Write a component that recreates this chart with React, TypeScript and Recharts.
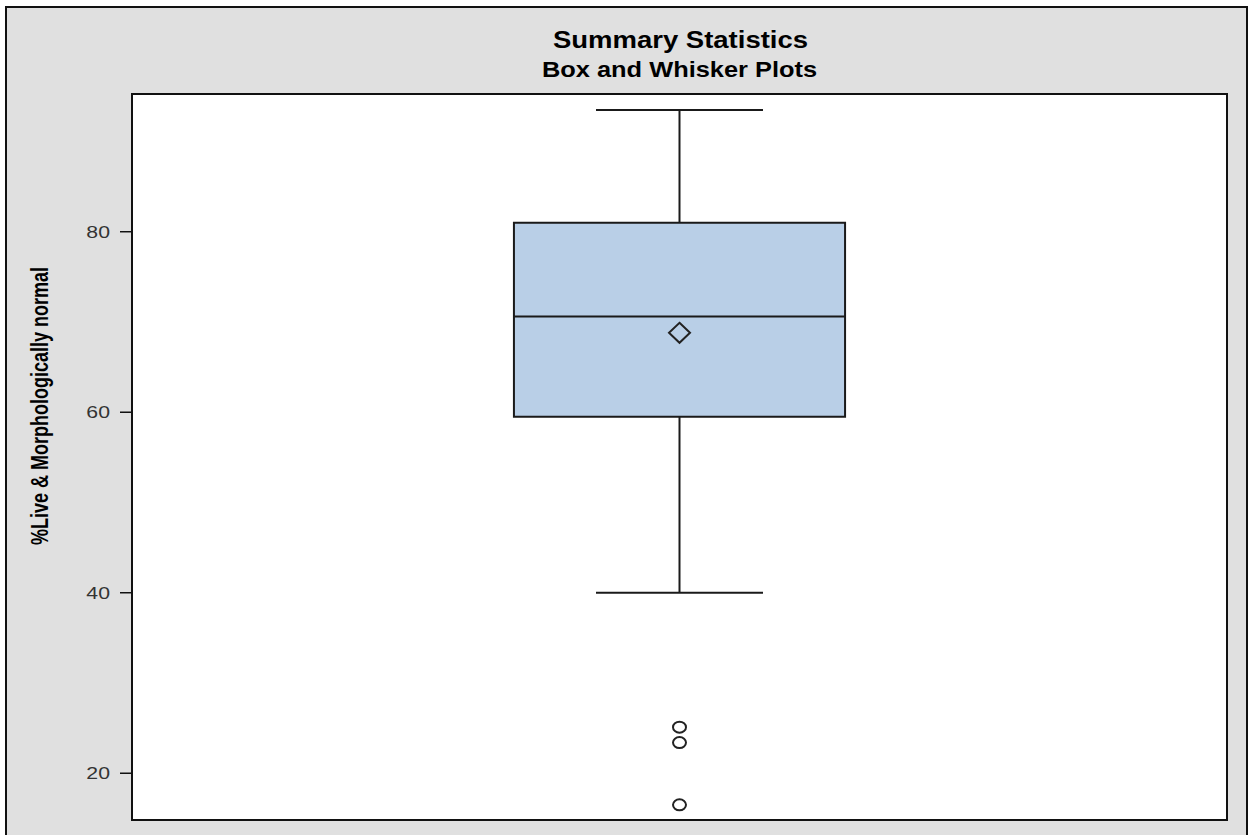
import {
  ComposedChart,
  XAxis,
  YAxis,
  Scatter,
  ReferenceArea,
  ReferenceLine,
} from "recharts";

// one group, summary values
const groups = [1];
const whiskerLow = [40.0];
const q1 = [59.5];
const median = [70.6];
const q3 = [81.0];
const whiskerHigh = [93.5];
const mean = [68.8];
const outliers = [25.1, 23.4, 16.5];
const yTicks = [20, 40, 60, 80];

const Y_MIN = 14.82;
const Y_MAX = 95.26;
const BOX_HALF = 0.3024;
const CAP_HALF = 0.1525;
const STRETCH = 1.25; // the source image is stretched horizontally

const meanData = groups.map((g, i) => ({ x: g, y: mean[i] }));
const outlierData = outliers.map((v) => ({ x: groups[0], y: v }));

const Diamond = (props: any) => {
  const { cx, cy } = props;
  return (
    <polygon
      points={`${cx},${cy - 10} ${cx + 10.5},${cy} ${cx},${cy + 10} ${cx - 10.5},${cy}`}
      fill="none"
      stroke="#222"
      strokeWidth={2}
    />
  );
};

const Ring = (props: any) => {
  const { cx, cy } = props;
  return <ellipse cx={cx} cy={cy} rx={6.5} ry={5.5} fill="none" stroke="#222" strokeWidth={2} />;
};

const YTick = (props: any) => {
  const { x, y, payload } = props;
  return (
    <g transform={`translate(${x},${y}) scale(${STRETCH},1)`}>
      <text x={0} y={0} dy="0.36em" textAnchor="end" fontSize={17} fill="#333" fontFamily="Liberation Sans, Arial, sans-serif">
        {payload.value}
      </text>
    </g>
  );
};

export default function App() {
  const stroke = "#1a1a1a";
  return (
    <div style={{ position: "absolute", left: 0, top: 0, width: 1248, height: 835, overflow: "hidden", background: "#fff" }}>
      <div
        style={{
          position: "absolute",
          left: 5,
          top: 6,
          width: 1239,
          height: 900,
          border: "2px solid #111",
          background: "#e0e0e0",
        }}
      />
      <div style={{ position: "absolute", left: 0, top: 0 }}>
        <ComposedChart width={1248} height={835} margin={{ top: 94, right: 21, bottom: 15, left: 0 }}>
          <XAxis type="number" dataKey="x" domain={[0, 2]} hide />
          <YAxis
            type="number"
            domain={[Y_MIN, Y_MAX]}
            ticks={yTicks}
            allowDataOverflow
            width={132}
            axisLine={false}
            tickSize={12}
            tickMargin={10}
            tickLine={{ stroke: "#111", strokeWidth: 1.5 }}
            tick={<YTick />}
          />
          <ReferenceArea x1={0} x2={2} y1={Y_MIN} y2={Y_MAX} fill="#fff" fillOpacity={1} stroke="#111" strokeWidth={2} ifOverflow="visible" />
          {groups.map((g, i) => (
            <ReferenceLine key={`wu${i}`} segment={[{ x: g, y: q3[i] }, { x: g, y: whiskerHigh[i] }]} stroke={stroke} strokeWidth={2} />
          ))}
          {groups.map((g, i) => (
            <ReferenceLine key={`wl${i}`} segment={[{ x: g, y: whiskerLow[i] }, { x: g, y: q1[i] }]} stroke={stroke} strokeWidth={2} />
          ))}
          {groups.map((g, i) => (
            <ReferenceLine key={`cu${i}`} segment={[{ x: g - CAP_HALF, y: whiskerHigh[i] }, { x: g + CAP_HALF, y: whiskerHigh[i] }]} stroke={stroke} strokeWidth={2} />
          ))}
          {groups.map((g, i) => (
            <ReferenceLine key={`cl${i}`} segment={[{ x: g - CAP_HALF, y: whiskerLow[i] }, { x: g + CAP_HALF, y: whiskerLow[i] }]} stroke={stroke} strokeWidth={2} />
          ))}
          {groups.map((g, i) => (
            <ReferenceArea
              key={`box${i}`}
              x1={g - BOX_HALF}
              x2={g + BOX_HALF}
              y1={q1[i]}
              y2={q3[i]}
              fill="#b9cfe7"
              fillOpacity={1}
              stroke={stroke}
              strokeWidth={2}
            />
          ))}
          {groups.map((g, i) => (
            <ReferenceLine key={`md${i}`} segment={[{ x: g - BOX_HALF, y: median[i] }, { x: g + BOX_HALF, y: median[i] }]} stroke={stroke} strokeWidth={2} />
          ))}
          <Scatter data={meanData} dataKey="y" shape={<Diamond />} isAnimationActive={false} />
          <Scatter data={outlierData} dataKey="y" shape={<Ring />} isAnimationActive={false} />
        </ComposedChart>
      </div>
      <svg width={1248} height={835} style={{ position: "absolute", left: 0, top: 0, pointerEvents: "none" }}>
        <g fontFamily="Liberation Sans, Arial, sans-serif" fontWeight="bold" fill="#000">
          <g transform={`translate(680.5,48) scale(1.25,1.05)`}>
            <text textAnchor="middle" fontSize={22}>Summary Statistics</text>
          </g>
          <g transform={`translate(679.5,77) scale(1.21,1.03)`}>
            <text textAnchor="middle" fontSize={21}>Box and Whisker Plots</text>
          </g>
          <g transform={`translate(48,406) rotate(-90) scale(1,1.35)`}>
            <text textAnchor="middle" fontSize={18}>%Live &amp; Morphologically normal</text>
          </g>
        </g>
      </svg>
    </div>
  );
}
